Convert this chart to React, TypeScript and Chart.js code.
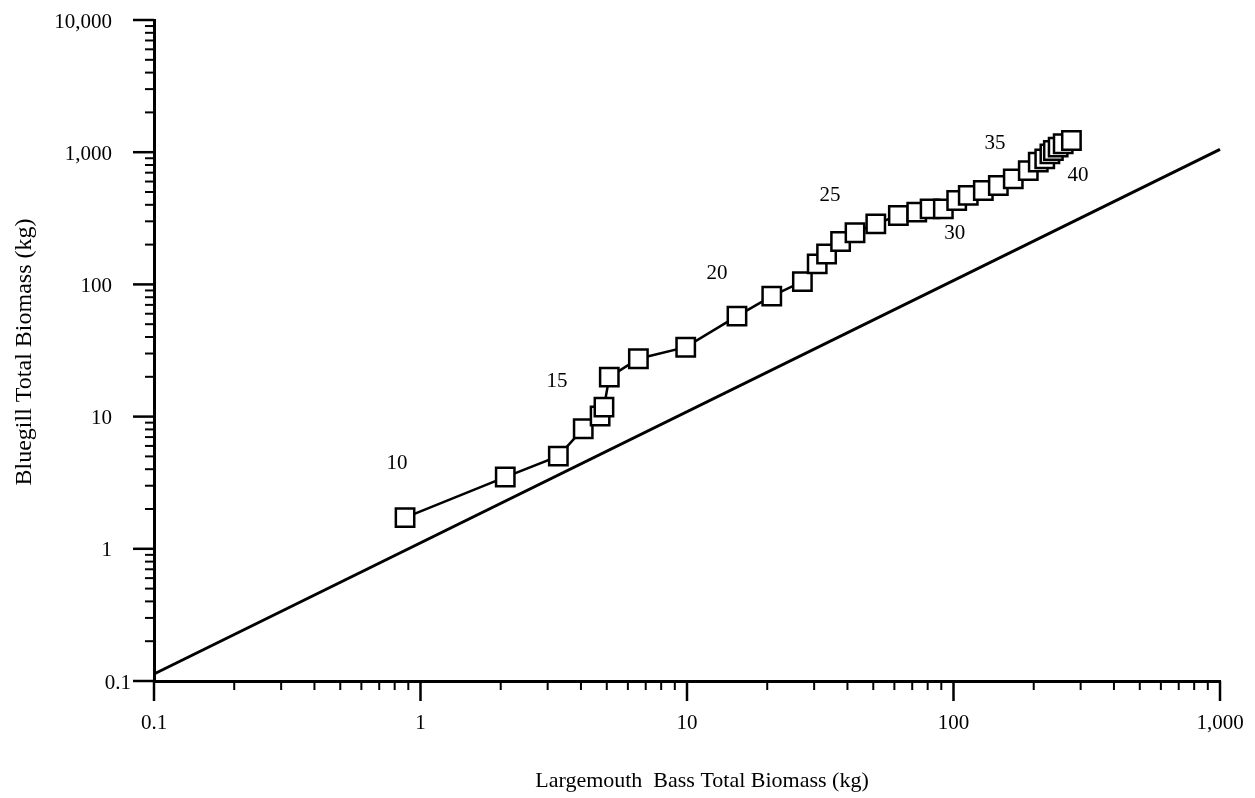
import React, { useEffect, useRef } from 'react';
import { Chart, registerables } from 'chart.js';

Chart.register(...registerables);

// Largemouth bass total biomass (kg) — x values of the plotted squares
const bassBiomass = [
  0.875, 2.08, 3.29, 4.08, 4.72, 4.88, 5.11, 6.57, 9.89, 15.4,
  20.8, 27.1, 30.8, 33.4, 37.7, 42.7, 51.1, 62.1, 72.8, 81.7,
  91.6, 102.8, 113.6, 129.4, 147.3, 167.6, 190.8, 208, 220, 230,
  237, 247, 258, 277,
];
// Bluegill total biomass (kg) — y values of the plotted squares
const bluegillBiomass = [
  1.72, 3.49, 5.02, 8.09, 10.1, 11.8, 19.9, 27.4, 33.5, 57.5,
  81.5, 105, 143, 170, 211, 246, 287, 332, 352, 373,
  373, 431, 471, 513, 560, 629, 725, 841, 891, 972,
  1030, 1093, 1158, 1227,
];
// reference line end points
const refLineX = [0.1, 1000];
const refLineY = [0.113, 1050];

// Time labels written beside the curve and their data positions
const stepLabels = ['10', '15', '20', '25', '30', '35', '40'];
const stepLabelX = [0.817, 3.25, 12.97, 34.4, 101, 143, 293];
const stepLabelY = [4.4, 18.3, 120, 468, 241, 1158, 663];

// Axis decades and tick labels
const xDecades = [0.1, 1, 10, 100, 1000];
const xTickLabels = ['0.1', '1', '10', '100', '1,000'];
const yDecades = [0.1, 1, 10, 100, 1000, 10000];
const yTickLabels = ['0.1', '1', '10', '100', '1,000', '10,000'];
const minorMultipliers = [2, 3, 4, 5, 6, 7, 8, 9];

const FONT = '"Liberation Serif", "DejaVu Serif", serif';

function buildTicks(decades: number[]) {
  const out: number[] = [];
  decades.forEach((d, i) => {
    out.push(d);
    if (i < decades.length - 1) {
      minorMultipliers.forEach((m) => out.push(+(d * m).toPrecision(6)));
    }
  });
  return out;
}

const xTickValues = buildTicks(xDecades);
const yTickValues = buildTicks(yDecades);

const decorPlugin = {
  id: 'decor',
  afterDraw(chart: any) {
    const ctx = chart.ctx as CanvasRenderingContext2D;
    const { left, bottom } = chart.chartArea;
    const xs = chart.scales.x;
    const ys = chart.scales.y;
    ctx.save();
    ctx.strokeStyle = '#000';
    ctx.fillStyle = '#000';
    ctx.lineCap = 'butt';

    // x ticks
    xTickValues.forEach((v) => {
      const px = xs.getPixelForValue(v);
      const major = xDecades.includes(v);
      ctx.lineWidth = major ? 2.5 : 2;
      ctx.beginPath();
      ctx.moveTo(px, bottom);
      ctx.lineTo(px, bottom + (major ? 20 : 9));
      ctx.stroke();
    });
    // y ticks
    yTickValues.forEach((v) => {
      const py = ys.getPixelForValue(v);
      const major = yDecades.includes(v);
      ctx.lineWidth = major ? 2.5 : 2;
      ctx.beginPath();
      ctx.moveTo(left, py);
      ctx.lineTo(left - (major ? 21 : 9), py);
      ctx.stroke();
    });

    // tick labels
    ctx.font = `21px ${FONT}`;
    ctx.textAlign = 'center';
    ctx.textBaseline = 'middle';
    xDecades.forEach((v, i) => {
      ctx.fillText(xTickLabels[i], xs.getPixelForValue(v), bottom + 42);
    });
    ctx.textAlign = 'right';
    yDecades.forEach((v, i) => {
      const x = v < 1 ? left - 23 : left - 42;
      ctx.fillText(yTickLabels[i], x, ys.getPixelForValue(v) + 2);
    });

    // step labels
    ctx.textAlign = 'center';
    ctx.font = `21px ${FONT}`;
    stepLabels.forEach((t, i) => {
      ctx.fillText(t, xs.getPixelForValue(stepLabelX[i]), ys.getPixelForValue(stepLabelY[i]));
    });

    // axis titles
    ctx.font = `22px ${FONT}`;
    ctx.fillText('Largemouth  Bass Total Biomass (kg)', 702, 781);
    ctx.save();
    ctx.translate(25, 352);
    ctx.rotate(-Math.PI / 2);
    ctx.font = `24px ${FONT}`;
    ctx.fillText('Bluegill Total Biomass (kg)', 0, 0);
    ctx.restore();

    ctx.restore();
  },
};

export default function App() {
  const canvasRef = useRef<HTMLCanvasElement | null>(null);

  useEffect(() => {
    const canvas = canvasRef.current;
    if (!canvas) return;
    const series = bassBiomass.map((x, i) => ({ x, y: bluegillBiomass[i] }));
    const refLine = refLineX.map((x, i) => ({ x, y: refLineY[i] }));

    const chart = new Chart(canvas, {
      type: 'scatter',
      data: {
        datasets: [
          {
            data: refLine,
            showLine: true,
            borderColor: '#000',
            borderWidth: 3,
            pointRadius: 0,
            clip: false,
          },
          {
            data: series,
            showLine: true,
            borderColor: '#000',
            borderWidth: 2.5,
            pointStyle: 'rect',
            pointRadius: 13,
            pointBackgroundColor: '#fff',
            pointBorderColor: '#000',
            pointBorderWidth: 2.5,
            clip: false,
          },
        ],
      },
      options: {
        animation: false,
        responsive: false,
        layout: { padding: { left: 0, right: 35, top: 20, bottom: 0 } },
        plugins: { legend: { display: false }, tooltip: { enabled: false } },
        events: [],
        scales: {
          x: {
            type: 'logarithmic',
            min: 0.1,
            max: 1000,
            ticks: { display: false },
            grid: { display: false },
            border: { display: true, color: '#000', width: 3 },
            afterBuildTicks: (s: any) => {
              s.ticks = xTickValues.map((value) => ({ value }));
            },
            afterFit: (s: any) => {
              s.height = 117;
            },
          },
          y: {
            type: 'logarithmic',
            min: 0.1,
            max: 10000,
            ticks: { display: false },
            grid: { display: false },
            border: { display: true, color: '#000', width: 3 },
            afterBuildTicks: (s: any) => {
              s.ticks = yTickValues.map((value) => ({ value }));
            },
            afterFit: (s: any) => {
              s.width = 154;
            },
          },
        },
      },
      plugins: [decorPlugin],
    } as any);

    return () => chart.destroy();
  }, []);

  return (
    <div style={{ position: 'absolute', left: 0, top: 0, width: 1255, height: 798, background: '#fff' }}>
      <canvas ref={canvasRef} width={1255} height={798} />
    </div>
  );
}
